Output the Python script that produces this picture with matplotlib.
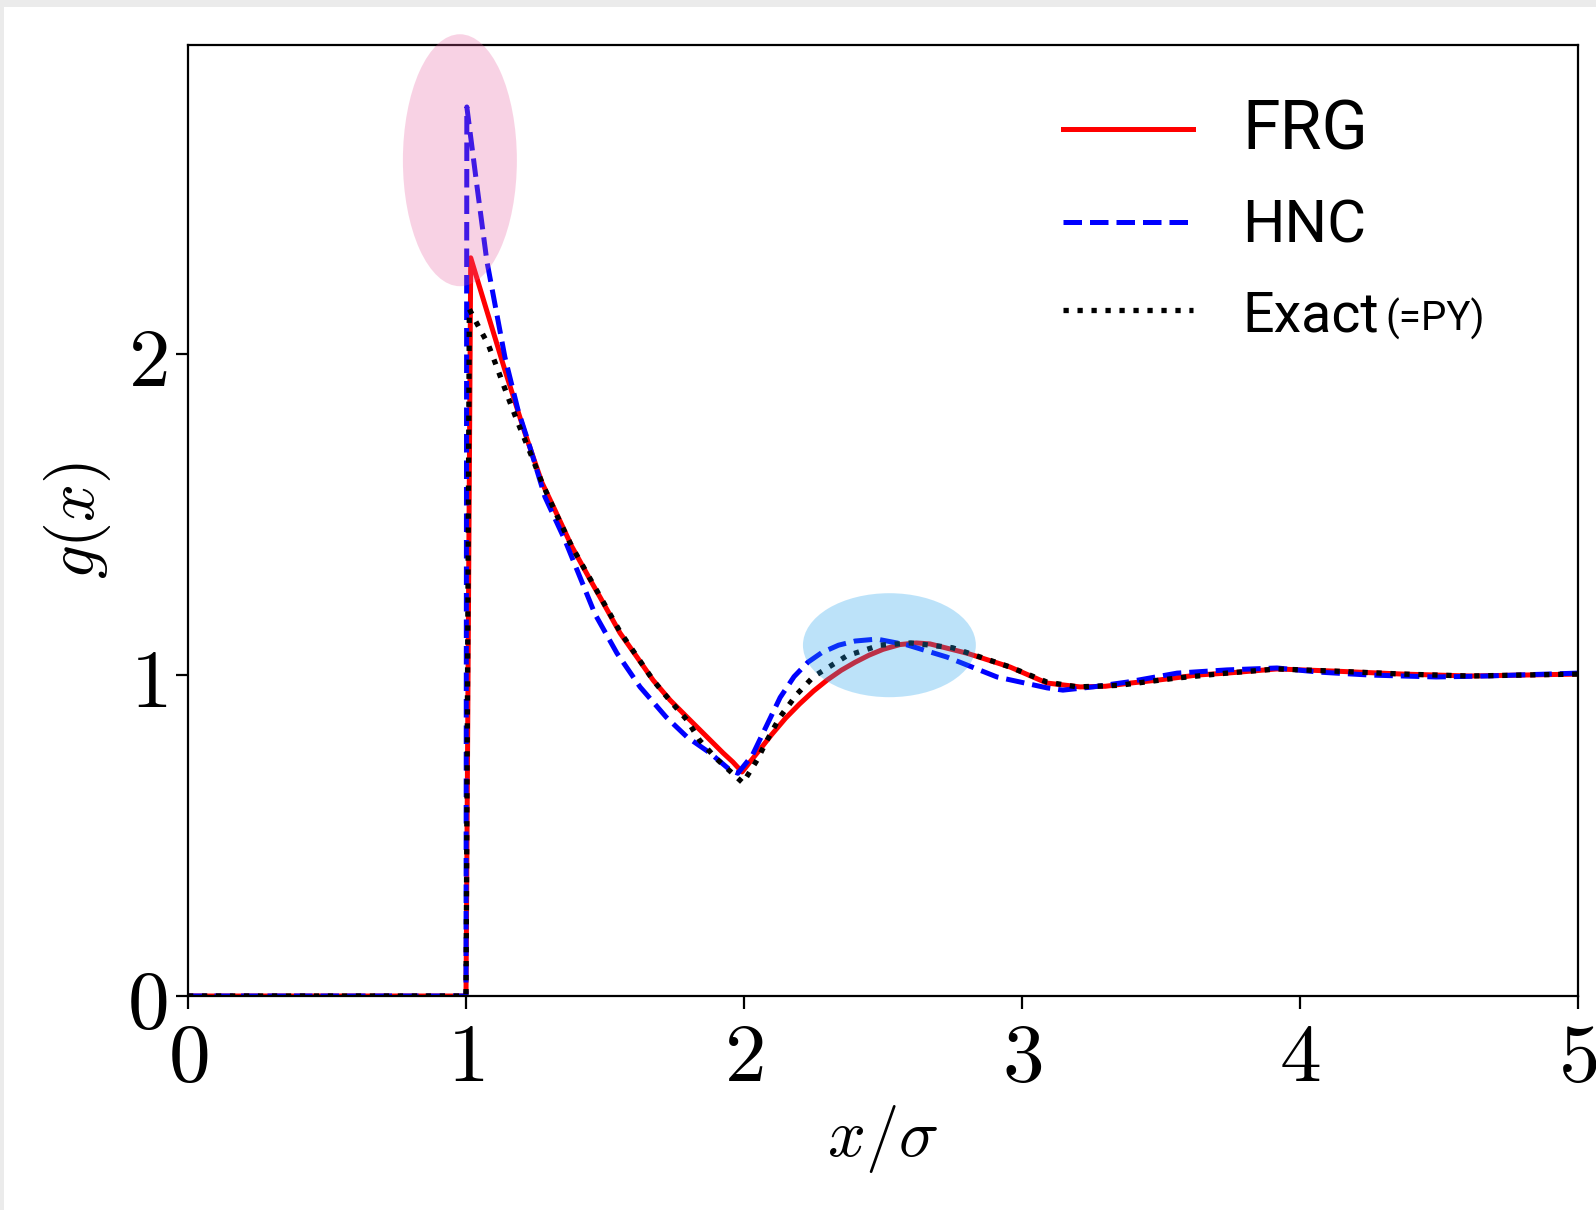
import matplotlib
matplotlib.use('Agg')
import matplotlib.pyplot as plt
from matplotlib.patches import Ellipse, Rectangle

plt.rcParams['mathtext.fontset'] = 'cm'

# curves: x/sigma and g(x)
frg_x = [0.0, 0.5, 1.0, 1.017, 1.08, 1.14, 1.212, 1.273, 1.32, 1.381, 1.453, 1.482, 1.554,
         1.615, 1.673, 1.734, 1.795, 1.867, 1.925, 1.96, 1.993, 2.047, 2.10, 2.15, 2.20,
         2.25, 2.30, 2.35, 2.40, 2.45, 2.50, 2.561, 2.62, 2.669, 2.802, 2.957, 3.09, 3.209,
         3.30, 3.39, 3.496, 3.63, 3.737, 3.917, 4.13, 4.37, 4.61, 5.0]
frg_g = [0.0, 0.0, 0.0, 2.30, 2.12, 1.95, 1.754, 1.60, 1.514, 1.40, 1.287, 1.243, 1.131,
         1.056, 0.984, 0.922, 0.869, 0.807, 0.757, 0.729, 0.698, 0.757, 0.815, 0.866, 0.91,
         0.95, 0.985, 1.015, 1.04, 1.062, 1.08, 1.095, 1.10, 1.097, 1.068, 1.025, 0.975, 0.963,
         0.965, 0.975, 0.985, 1.0, 1.006, 1.019, 1.012, 1.003, 0.997, 1.003]

hnc_x = [0.0, 0.5, 1.0, 1.003, 1.04, 1.075, 1.14, 1.187, 1.23, 1.284, 1.356, 1.464, 1.543,
         1.626, 1.72, 1.795, 1.878, 1.95, 1.978, 2.03, 2.08, 2.13, 2.18, 2.23, 2.28, 2.34,
         2.40, 2.478, 2.586, 2.73, 2.91, 3.09, 3.147, 3.255, 3.378, 3.558, 3.737, 3.917,
         4.07, 4.25, 4.49, 4.67, 5.0]
hnc_g = [0.0, 0.0, 0.0, 2.77, 2.52, 2.29, 1.99, 1.826, 1.71, 1.555, 1.42, 1.19, 1.068,
         0.963, 0.869, 0.807, 0.757, 0.704, 0.694, 0.75, 0.84, 0.93, 0.995, 1.04, 1.07, 1.093,
         1.106, 1.112, 1.094, 1.056, 0.994, 0.96, 0.953, 0.963, 0.978, 1.006, 1.016, 1.022,
         1.009, 1.0, 0.994, 0.997, 1.006]

exact_x = [0.0, 0.5, 1.0, 1.012, 1.03, 1.08, 1.115, 1.151, 1.183, 1.237, 1.273, 1.32, 1.381,
           1.453, 1.554, 1.615, 1.673, 1.734, 1.795, 1.84, 1.90, 1.996, 2.047, 2.083, 2.13,
           2.19, 2.25, 2.37, 2.489, 2.60, 2.75, 2.957, 3.09, 3.20, 3.35, 3.55, 3.737, 3.917,
           4.13, 4.37, 4.61, 5.0]
exact_g = [0.0, 0.0, 0.0, 2.14, 2.11, 2.03, 1.95, 1.866, 1.794, 1.68, 1.60, 1.51, 1.40,
           1.29, 1.135, 1.058, 0.984, 0.92, 0.86, 0.797, 0.74, 0.664, 0.735, 0.797, 0.87,
           0.94, 0.995, 1.06, 1.093, 1.10, 1.085, 1.025, 0.978, 0.963, 0.968, 0.99, 1.006,
           1.019, 1.012, 1.003, 0.997, 1.003]

labels = ['FRG', 'HNC', 'Exact']
xticks = [0, 1, 2, 3, 4, 5]
yticks = [0, 1, 2]

fig = plt.figure(figsize=(15.96, 12.10), dpi=100, facecolor='#ebebeb')
# white page with a thin grey frame on top and left
fig.patches.append(Rectangle((4 / 1596, 0), 1, 1 - 7 / 1210, transform=fig.transFigure,
                             facecolor='white', edgecolor='none', zorder=-10))

ax = fig.add_axes([188 / 1596, 1 - 996 / 1210, 1390 / 1596, 951 / 1210])

l1, = ax.plot(frg_x, frg_g, color='red', lw=3.6, ls='-')
l2, = ax.plot(hnc_x, hnc_g, color='blue', lw=3.6, ls='--')
l3, = ax.plot(exact_x, exact_g, color='black', lw=3.8, ls=':')

# highlighted regions
ax.add_patch(Ellipse((0.978, 2.604), 0.41, 0.785, facecolor='#e8609f', alpha=0.28,
                     edgecolor='none', zorder=5, clip_on=False))
ax.add_patch(Ellipse((2.523, 1.093), 0.622, 0.324, facecolor='#23a2ee', alpha=0.3,
                     edgecolor='none', zorder=5))

ax.set_xlim(0, 5)
ax.set_ylim(0, 2.963)
ax.set_xticks(xticks)
ax.set_xticklabels(['$%d$' % t for t in xticks])
ax.set_yticks(yticks)
ax.set_yticklabels(['$%d$' % t for t in yticks])
ax.tick_params(labelsize=60, length=9, width=1.6, pad=6)
for s in ax.spines.values():
    s.set_linewidth(1.6)

ax.set_xlabel(r'$x/\sigma$', fontsize=48, labelpad=4)
ax.set_ylabel(r'$g(x)$', fontsize=48, labelpad=10)

leg = ax.legend([l1, l2, l3], labels, loc='upper left', frameon=False,
                bbox_to_anchor=(1063 / 1596, 1 - 98 / 1210), bbox_transform=fig.transFigure,
                prop={'family': 'Roboto', 'size': 44}, borderpad=0, borderaxespad=0,
                handlelength=2.13, handletextpad=0.8, labelspacing=0.555)
sizes = [49, 43, 40]
for t, s in zip(leg.get_texts(), sizes):
    t.set_fontsize(s)
# small "(=PY)" after the Exact label, drawn after the legend
ax.annotate('(=PY)', xy=(1, 0), xycoords=leg.get_texts()[2], xytext=(5, 2),
            textcoords='offset points', va='bottom', ha='left', fontsize=29,
            family='Roboto', zorder=20)

fig.savefig('out.png', dpi=100, facecolor=fig.get_facecolor())
